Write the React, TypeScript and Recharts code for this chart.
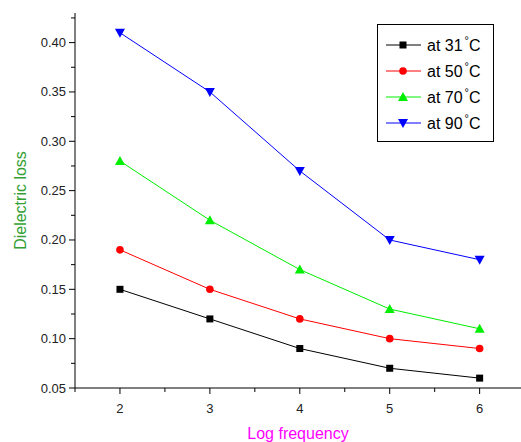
import { LineChart, Line, XAxis, YAxis } from "recharts";

const logFreq = [2, 3, 4, 5, 6];
const at31 = [0.15, 0.12, 0.09, 0.07, 0.06];
const at50 = [0.19, 0.15, 0.12, 0.1, 0.09];
const at70 = [0.28, 0.22, 0.17, 0.13, 0.11];
const at90 = [0.41, 0.35, 0.27, 0.2, 0.18];

const xTicks = [1.5, 2, 2.5, 3, 3.5, 4, 4.5, 5, 5.5, 6];
const yTicks = [0.05, 0.075, 0.1, 0.125, 0.15, 0.175, 0.2, 0.225, 0.25, 0.275, 0.3, 0.325, 0.35, 0.375, 0.4, 0.425];

const series = [
  { key: "t31", name: "at 31", color: "#000000", shape: "square" },
  { key: "t50", name: "at 50", color: "#ff0000", shape: "circle" },
  { key: "t70", name: "at 70", color: "#00ee00", shape: "up" },
  { key: "t90", name: "at 90", color: "#0000ff", shape: "down" },
];

const data = logFreq.map((f, i) => ({
  f,
  t31: at31[i],
  t50: at50[i],
  t70: at70[i],
  t90: at90[i],
}));

const FONT = "'Liberation Sans', Arial, sans-serif";

function Marker({ cx, cy, shape, color }: any) {
  if (cx == null || cy == null) return null;
  if (shape === "square") return <rect x={cx - 3.5} y={cy - 3.5} width={7} height={7} fill={color} />;
  if (shape === "circle") return <circle cx={cx} cy={cy} r={3.8} fill={color} />;
  if (shape === "up")
    return <polygon points={`${cx - 5},${cy + 4} ${cx + 5},${cy + 4} ${cx},${cy - 5}`} fill={color} />;
  return <polygon points={`${cx - 5},${cy - 4} ${cx + 5},${cy - 4} ${cx},${cy + 5}`} fill={color} />;
}

function XTick({ x, y, payload }: any) {
  const v = payload.value;
  const major = Number.isInteger(v);
  return (
    <g>
      <line x1={x} y1={y} x2={x} y2={y + (major ? 6 : 4)} stroke="#000" strokeWidth={1} />
      {major && (
        <text x={x} y={y + 25} textAnchor="middle" fontSize={13} fontFamily={FONT} fill="#222">
          {v}
        </text>
      )}
    </g>
  );
}

function YTick({ x, y, payload }: any) {
  const v = payload.value;
  const major = Math.round(v * 1000) % 50 === 0;
  return (
    <g>
      <line x1={x} y1={y} x2={x - (major ? 6 : 4)} y2={y} stroke="#000" strokeWidth={1} />
      {major && (
        <text x={x - 9} y={y} textAnchor="end" dominantBaseline="central" fontSize={13} fontFamily={FONT} fill="#222">
          {v.toFixed(2)}
        </text>
      )}
    </g>
  );
}

function LegendBox() {
  return (
    <svg width={117} height={118} style={{ position: "absolute", left: 377, top: 24, display: "block" }}>
      <rect x={0.5} y={0.5} width={116} height={117} fill="#fff" stroke="#000" strokeWidth={1} />
      {series.map((s, i) => {
        const y = 21 + i * 26;
        return (
          <g key={s.key}>
            <line x1={9} y1={y} x2={44} y2={y} stroke={s.color} strokeWidth={1} />
            <Marker cx={26} cy={y} shape={s.shape} color={s.color} />
            <text x={50} y={y} dominantBaseline="central" fontSize={16} fontFamily={FONT} fill="#000">
              {s.name}
              <tspan fontSize={11} dx={2} dy={-5}>°</tspan>
              <tspan dy={5}>C</tspan>
            </text>
          </g>
        );
      })}
    </svg>
  );
}

export default function App() {
  return (
    <div style={{ position: "absolute", left: 0, top: 0, width: 521, height: 442, background: "#fff" }}>
      <LineChart width={521} height={442} data={data} margin={{ top: 13, right: 0, left: 0, bottom: 0 }}>
        <XAxis
          dataKey="f"
          type="number"
          domain={[1.5, 6.46]}
          ticks={xTicks}
          interval={0}
          height={54}
          tickSize={0}
          tickMargin={0}
          tickLine={false}
          tick={<XTick />}
          axisLine={{ stroke: "#000", strokeWidth: 1 }}
          label={{ value: "Log frequency", position: "insideBottom", offset: 3, fill: "#ff00ff", fontSize: 16, fontFamily: FONT }}
        />
        <YAxis
          type="number"
          domain={[0.05, 0.43]}
          ticks={yTicks}
          interval={0}
          width={75}
          tickSize={0}
          tickMargin={0}
          tickLine={false}
          tick={<YTick />}
          axisLine={{ stroke: "#000", strokeWidth: 1 }}
          label={{
            value: "Dielectric loss",
            angle: -90,
            position: "insideLeft",
            offset: 20,
            fill: "#33a033",
            fontSize: 16,
            fontFamily: FONT,
            style: { textAnchor: "middle" },
          }}
        />
        {series.map((s) => (
          <Line
            key={s.key}
            dataKey={s.key}
            name={s.name}
            stroke={s.color}
            strokeWidth={1}
            isAnimationActive={false}
            dot={(p: any) => <Marker key={`${s.key}-${p.index}`} cx={p.cx} cy={p.cy} shape={s.shape} color={s.color} />}
            activeDot={false}
          />
        ))}
      </LineChart>
      <LegendBox />
    </div>
  );
}
